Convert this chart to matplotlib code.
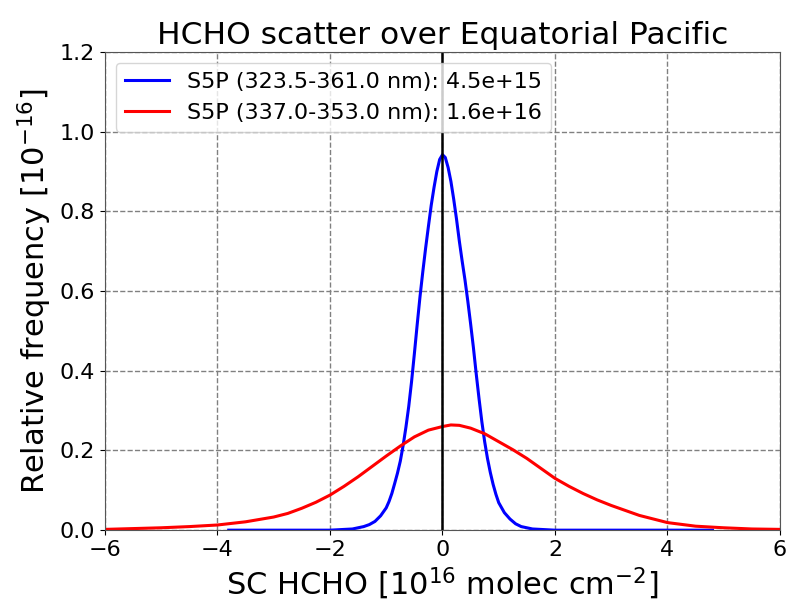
import matplotlib
matplotlib.use("Agg")
import matplotlib.pyplot as plt

blue_x = [-3.8, -2.0, -1.6, -1.4, -1.3, -1.2, -1.1, -1.0, -0.95, -0.9, -0.85, -0.8, -0.75, -0.7, -0.65, -0.6,
          -0.55, -0.5, -0.45, -0.4, -0.35, -0.3, -0.25, -0.2, -0.15, -0.1, -0.05, 0.0, 0.05, 0.1, 0.15, 0.2,
          0.25, 0.3, 0.35, 0.4, 0.45, 0.5, 0.55, 0.6, 0.65, 0.7, 0.75, 0.8, 0.85, 0.9, 0.95, 1.0, 1.1, 1.2,
          1.3, 1.4, 1.6, 2.0, 4.8]
blue_y = [0.0, 0.0, 0.003, 0.009, 0.014, 0.022, 0.036, 0.056, 0.072, 0.092, 0.117, 0.143, 0.173, 0.212, 0.258, 0.31,
          0.372, 0.442, 0.515, 0.585, 0.648, 0.707, 0.762, 0.815, 0.86, 0.9, 0.93, 0.942, 0.935, 0.91, 0.875, 0.83,
          0.78, 0.725, 0.675, 0.628, 0.575, 0.518, 0.458, 0.392, 0.33, 0.272, 0.222, 0.18, 0.145, 0.115, 0.09, 0.069, 0.044, 0.028,
          0.016, 0.009, 0.003, 0.0, 0.0]

red_x = [-6.0, -5.5, -5.0, -4.5, -4.0, -3.5, -3.0, -2.75, -2.5, -2.25, -2.0, -1.75, -1.5, -1.25, -1.0, -0.75,
         -0.5, -0.25, 0.0, 0.15, 0.3, 0.5, 0.75, 1.0, 1.25, 1.5, 1.75, 2.0, 2.25, 2.5, 2.75, 3.0, 3.5, 4.0,
         4.5, 5.0, 5.5, 6.0]
red_y = [0.002, 0.004, 0.006, 0.009, 0.013, 0.021, 0.033, 0.042, 0.055, 0.07, 0.088, 0.11, 0.134, 0.16, 0.186, 0.211,
         0.234, 0.251, 0.26, 0.264, 0.263, 0.256, 0.242, 0.222, 0.202, 0.18, 0.155, 0.13, 0.11, 0.092, 0.076, 0.062, 0.037, 0.019,
         0.01, 0.006, 0.003, 0.002]

labels = ["S5P (323.5-361.0 nm): 4.5e+15", "S5P (337.0-353.0 nm): 1.6e+16"]
xticks = [-6, -4, -2, 0, 2, 4, 6]
yticks = [0.0, 0.2, 0.4, 0.6, 0.8, 1.0, 1.2]

fig = plt.figure(figsize=(7.89, 6.08), dpi=100)
ax = fig.add_axes([0.133, 0.128, 0.8556, 0.7867])
ax.plot(blue_x, blue_y, color="blue", lw=2.2, label=labels[0])
ax.plot(red_x, red_y, color="red", lw=2.2, label=labels[1])
ax.axvline(0, color="black", lw=1.8)
ax.set_xlim(-6, 6)
ax.set_ylim(0, 1.2)
ax.set_xticks(xticks)
ax.set_yticks(yticks)
ax.set_yticklabels([f"{v:.1f}" for v in yticks])
ax.tick_params(labelsize=16)
ax.grid(True, color="gray", linestyle="--", lw=1)
ax.set_axisbelow(True)
for s in ax.spines.values():
    s.set_color("#555555")
ax.set_title("HCHO scatter over Equatorial Pacific", fontsize=22.5)
ax.set_xlabel(r"SC HCHO [10$^{16}$ molec cm$^{-2}$]", fontsize=22)
ax.set_ylabel(r"Relative frequency [10$^{-16}$]", fontsize=22)
ax.legend(loc="upper left", fontsize=16)
fig.savefig("out.png", dpi=100)
